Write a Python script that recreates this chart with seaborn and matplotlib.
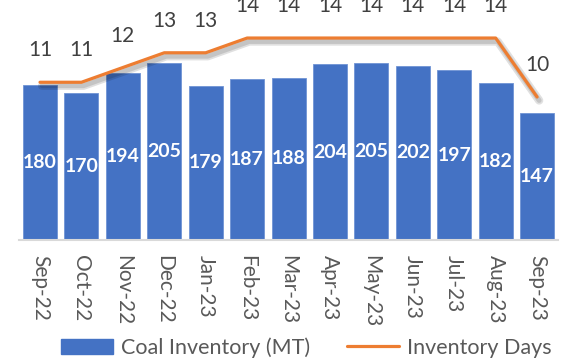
import matplotlib
matplotlib.use("Agg")
import numpy as np
import pandas as pd
import matplotlib.pyplot as plt
import matplotlib.patheffects as pe
from matplotlib.patches import Patch
from matplotlib.lines import Line2D
import seaborn as sns

months = ["Sep-22", "Oct-22", "Nov-22", "Dec-22", "Jan-23", "Feb-23", "Mar-23",
          "Apr-23", "May-23", "Jun-23", "Jul-23", "Aug-23", "Sep-23"]
coal_inventory = [180, 170, 194, 205, 179, 187, 188, 204, 205, 202, 197, 182, 147]
inventory_days = [11, 11, 12, 13, 13, 14, 14, 14, 14, 14, 14, 14, 10]

BAR_BLUE = "#4472C4"
LINE_ORANGE = "#ED7D31"
TEXT_GREY = "#595959"
LABEL_DARK = "#404040"

sns.set_theme(style="white")
plt.rcParams["font.family"] = ["Lato", "DejaVu Sans"]

df = pd.DataFrame({"month": months, "inventory": coal_inventory,
                   "days": inventory_days, "pos": np.arange(len(months))})

fig = plt.figure(figsize=(5.62, 3.6), dpi=100)
ax = fig.add_axes([19.3 / 562, 120 / 360, 538.5 / 562, 240 / 360])

sns.barplot(data=df, x="month", y="inventory", color=BAR_BLUE, saturation=1,
            width=0.82, ax=ax, edgecolor="#6F93D4", linewidth=0.6)
ax.set_xlim(-0.5, len(months) - 0.5)
ax.set_ylim(0, 278.4)
for cont in ax.containers:
    ax.bar_label(cont, label_type="center", color="white", fontsize=14,
                 fontweight="bold")

ax.set_xlabel("")
ax.set_ylabel("")
ax.set_yticks([])
ax.tick_params(axis="x", length=0, pad=11, labelsize=15, labelcolor=TEXT_GREY)
for lbl in ax.get_xticklabels():
    lbl.set_rotation(-90)
    lbl.set_va("top")
for side in ["top", "left", "right"]:
    ax.spines[side].set_visible(False)
ax.spines["bottom"].set_color("#D9D9D9")
ax.spines["bottom"].set_linewidth(1.5)

# inventory days on a secondary axis
ax2 = ax.twinx()
shadow = [pe.SimpleLineShadow(offset=(1.5, -2.5), shadow_color="#000000", alpha=0.12,
                              linewidth=6),
          pe.SimpleLineShadow(offset=(1.5, -2.5), shadow_color="#000000", alpha=0.12,
                              linewidth=3.5),
          pe.Normal()]
sns.lineplot(data=df, x="pos", y="days", color=LINE_ORANGE, linewidth=2.3, ax=ax2,
             path_effects=shadow)
ax2.set_ylim(0.3, 16.58)
ax2.set_xlim(-0.5, len(months) - 0.5)
ax2.set_yticks([])
ax2.set_ylabel("")
ax2.set_xlabel("")
for side in ["top", "left", "right", "bottom"]:
    ax2.spines[side].set_visible(False)
for x, d in zip(df["pos"], df["days"]):
    ax2.annotate(str(d), (x, d), xytext=(0, 23), textcoords="offset points",
                 ha="center", va="center", fontsize=15, color=LABEL_DARK,
                 annotation_clip=False)

handles = [Patch(facecolor=BAR_BLUE, edgecolor=BAR_BLUE),
           Line2D([0], [0], color=LINE_ORANGE, linewidth=2.3)]
fig.legend(handles, ["Coal Inventory (MT)", "Inventory Days"], loc="center",
           bbox_to_anchor=(0.545, 0.034), ncol=2, frameon=False, fontsize=15.5,
           labelcolor=TEXT_GREY, handlelength=2.4, handletextpad=0.35,
           columnspacing=1.75, handleheight=0.75, borderpad=0.2)

fig.savefig("out.png", dpi=100)
